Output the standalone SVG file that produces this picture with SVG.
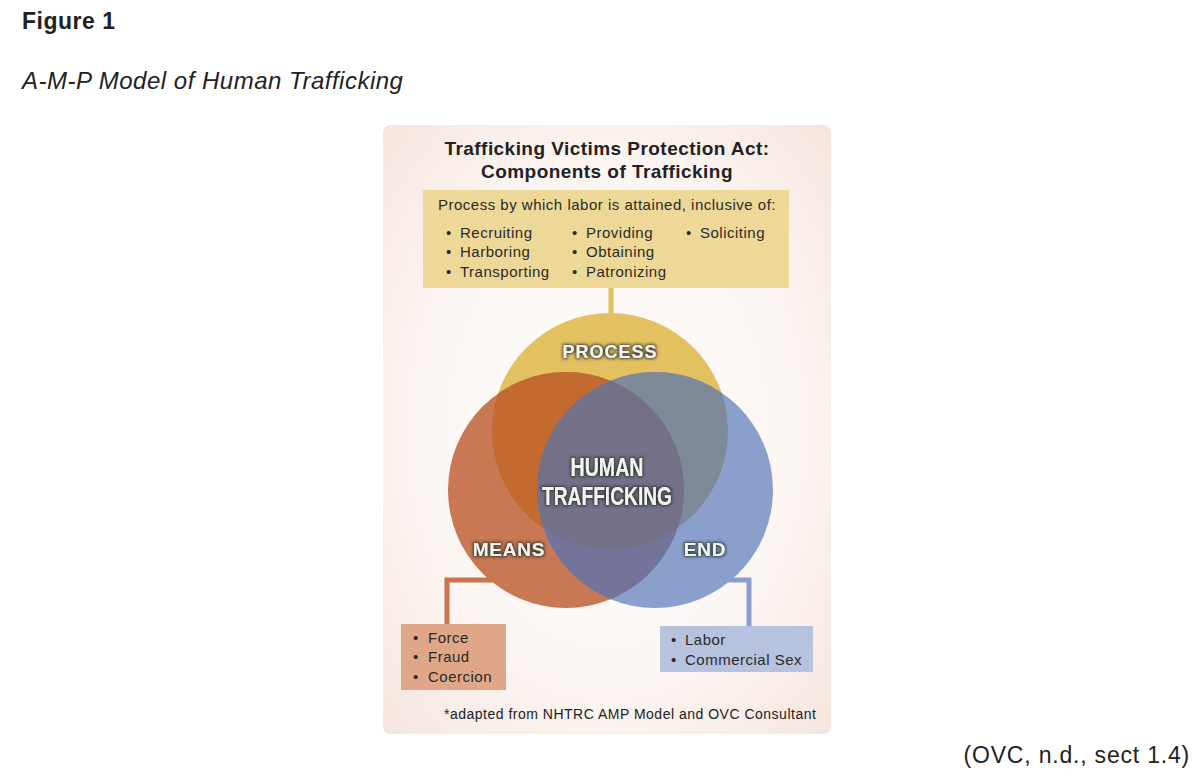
<svg xmlns="http://www.w3.org/2000/svg" width="1196" height="776" viewBox="0 0 1196 776">
<style>
.t{font-family:"Liberation Sans",Arial,sans-serif;fill:#222}
.b{font-weight:bold}
.box{font-family:"Liberation Sans",Arial,sans-serif;font-size:15px;letter-spacing:0.5px;fill:#2a2a2a}
.lab{font-family:"Liberation Sans",Arial,sans-serif;font-weight:bold;fill:#eef6ee;filter:url(#glow)}
</style>
<defs>
<radialGradient id="bg" cx="50%" cy="50%" r="75%">
<stop offset="0" stop-color="#fefcfb"/>
<stop offset="0.55" stop-color="#fcf6f3"/>
<stop offset="1" stop-color="#f4e2da"/>
</radialGradient>
<filter id="glow" x="-20%" y="-40%" width="140%" height="180%">
<feMorphology in="SourceAlpha" operator="dilate" radius="1" result="d"/>
<feGaussianBlur in="d" stdDeviation="1.6" result="bl"/>
<feFlood flood-color="#2a2a2a" flood-opacity="0.85"/>
<feComposite in2="bl" operator="in" result="sh"/>
<feMerge><feMergeNode in="sh"/><feMergeNode in="SourceGraphic"/></feMerge>
</filter>
<clipPath id="cP"><circle cx="610" cy="431" r="118"/></clipPath>
<clipPath id="cM"><circle cx="566" cy="490" r="118"/></clipPath>
</defs>
<rect width="1196" height="776" fill="#fff"/>
<text class="t b" x="22" y="29" font-size="23" letter-spacing="0.5" fill="#000">Figure 1</text>
<text class="t" x="22" y="89" font-size="24" letter-spacing="0.5" font-style="italic" fill="#000">A-M-P Model of Human Trafficking</text>
<text class="t" x="1190" y="763" font-size="23" letter-spacing="0.8" text-anchor="end" fill="#000">(OVC, n.d., sect 1.4)</text>

<rect x="383" y="125" width="448" height="609" rx="7" fill="url(#bg)"/>
<text class="t b" x="607" y="155" font-size="19" letter-spacing="0.45" text-anchor="middle">Trafficking Victims Protection Act:</text>
<text class="t b" x="607" y="178" font-size="19" letter-spacing="0.45" text-anchor="middle">Components of Trafficking</text>

<g id="connectors" fill="none" stroke-width="5">
<path d="M611 286 V316" stroke="#e3c060"/>
<path d="M495 580 H447 V626" stroke="#c87550"/>
<path d="M728 580 H749 V628" stroke="#8a9fcc"/>
</g>

<g id="process-box">
<rect x="423" y="190" width="366" height="98" fill="#eed898"/>
<text class="box" x="438" y="210">Process by which labor is attained, inclusive of:</text>
<text class="box" y="238"><tspan x="446">•</tspan><tspan x="460">Recruiting</tspan></text>
<text class="box" y="257"><tspan x="446">•</tspan><tspan x="460">Harboring</tspan></text>
<text class="box" y="277"><tspan x="446">•</tspan><tspan x="460">Transporting</tspan></text>
<text class="box" y="238"><tspan x="572">•</tspan><tspan x="586">Providing</tspan></text>
<text class="box" y="257"><tspan x="572">•</tspan><tspan x="586">Obtaining</tspan></text>
<text class="box" y="277"><tspan x="572">•</tspan><tspan x="586">Patronizing</tspan></text>
<text class="box" y="238"><tspan x="686">•</tspan><tspan x="700">Soliciting</tspan></text>
</g>

<g id="venn">
<circle cx="610" cy="431" r="118" fill="#e3c060"/>
<circle cx="566" cy="490" r="118" fill="#c87852"/>
<circle cx="655" cy="490" r="118" fill="#8a9fcc"/>
<circle cx="566" cy="490" r="118" fill="#c26a2f" clip-path="url(#cP)"/>
<circle cx="655" cy="490" r="118" fill="#7e8a98" clip-path="url(#cP)"/>
<circle cx="655" cy="490" r="118" fill="#74739a" clip-path="url(#cM)"/>
<g clip-path="url(#cP)"><circle cx="655" cy="490" r="118" fill="#737088" clip-path="url(#cM)"/></g>
</g>
<g id="process-label"><text class="lab" x="610" y="358" font-size="18" letter-spacing="1" text-anchor="middle">PROCESS</text></g>
<g id="center-label">
<text class="lab" x="607" y="476" font-size="25" text-anchor="middle" textLength="73" lengthAdjust="spacingAndGlyphs">HUMAN</text>
<text class="lab" x="607" y="505" font-size="25" text-anchor="middle" textLength="130" lengthAdjust="spacingAndGlyphs">TRAFFICKING</text>
</g>
<g id="means-label"><text class="lab" x="509" y="556" font-size="19" letter-spacing="0.8" text-anchor="middle">MEANS</text></g>
<g id="end-label"><text class="lab" x="705" y="556" font-size="19" letter-spacing="0.8" text-anchor="middle">END</text></g>

<g id="means-box">
<rect x="401" y="624" width="105" height="66" fill="#dfa688"/>
<text class="box" y="643"><tspan x="413">•</tspan><tspan x="428">Force</tspan></text>
<text class="box" y="662"><tspan x="413">•</tspan><tspan x="428">Fraud</tspan></text>
<text class="box" y="682"><tspan x="413">•</tspan><tspan x="428">Coercion</tspan></text>
</g>
<g id="end-box">
<rect x="660" y="626" width="153" height="46" fill="#b6c2de"/>
<text class="box" y="645"><tspan x="671">•</tspan><tspan x="685">Labor</tspan></text>
<text class="box" y="665"><tspan x="671">•</tspan><tspan x="685">Commercial Sex</tspan></text>
</g>
<text class="t" x="444" y="719" font-size="14" letter-spacing="0.5" fill="#333">*adapted from NHTRC AMP Model and OVC Consultant</text>
</svg>
